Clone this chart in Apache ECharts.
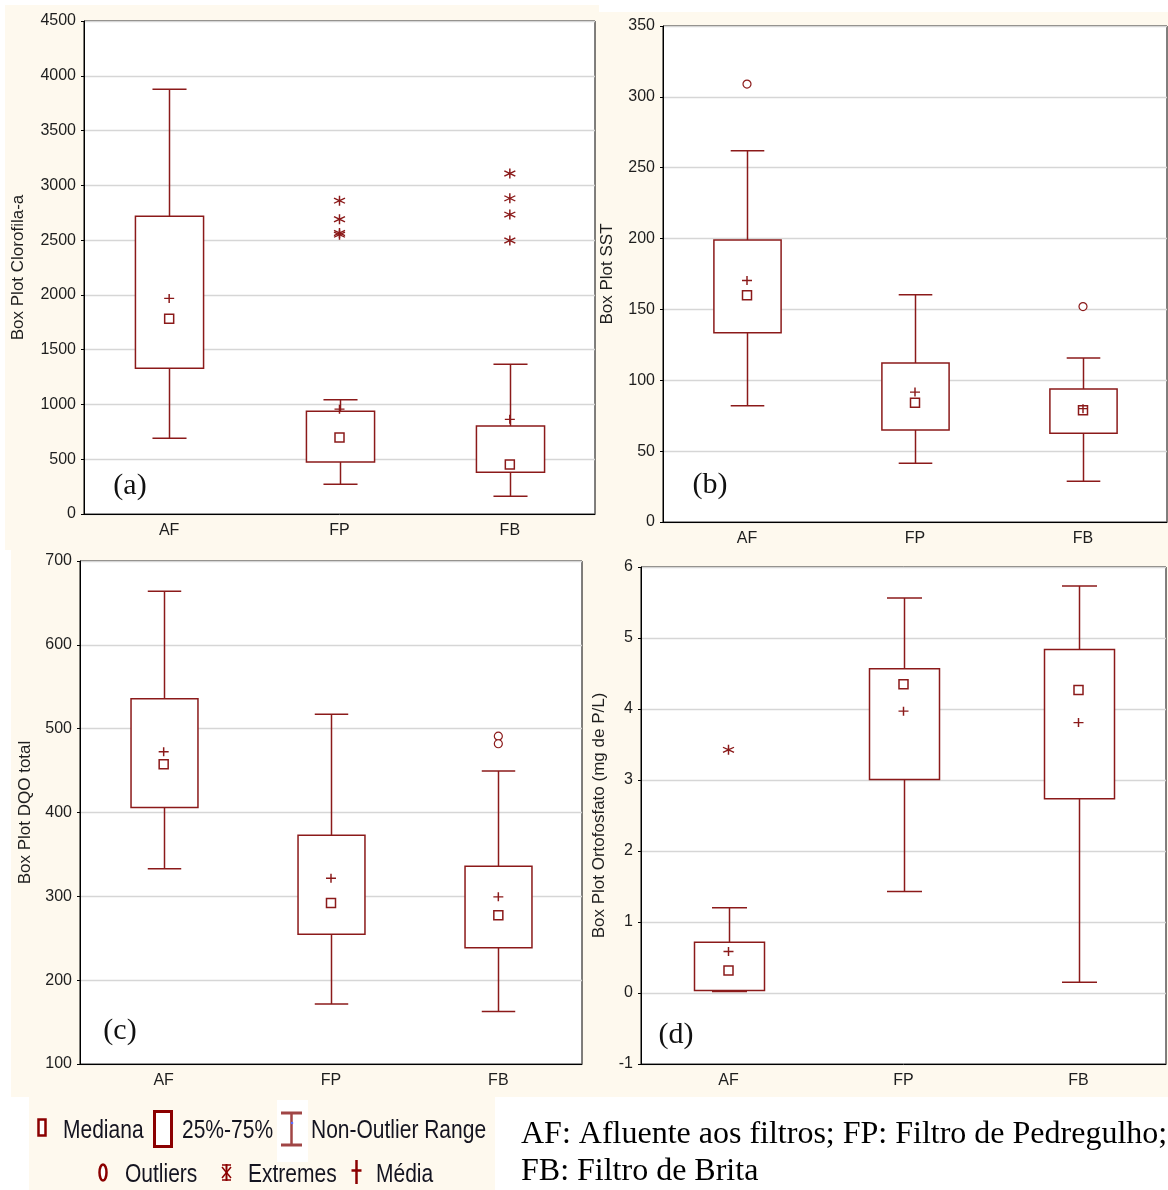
<!DOCTYPE html>
<html>
<head>
<meta charset="utf-8">
<script src="https://cdn.jsdelivr.net/npm/echarts@6/dist/echarts.min.js"></script>
<style>
html,body{margin:0;padding:0;background:#fff;}
#c{width:1168px;height:1190px;}
</style>
</head>
<body>
<div id="c"></div>
<script>
// ---------- DATA ----------
const categories = ['AF', 'FP', 'FB'];

// (a) Clorofila-a
const chlAxis = [0, 4500, 500];
const chlMin = [691, 272, 163];
const chlQ1 = [1331, 474, 381];
const chlQ3 = [2717, 938, 803];
const chlMax = [3876, 1043, 1367];
const chlMedian = [1783, 698, 451];
const chlMean = [1968, 957, 864];
const chlOutliers = [];
const chlExtremes = [['FP', 2860], ['FP', 2690], ['FP', 2565], ['FP', 2550],
                     ['FB', 3108], ['FB', 2881], ['FB', 2733], ['FB', 2496]];

// (b) SST
const sstAxis = [0, 350, 50];
const sstMin = [82, 41.4, 28.7];
const sstQ1 = [133.5, 64.9, 62.7];
const sstQ3 = [199, 112.2, 93.9];
const sstMax = [262, 160.3, 115.7];
const sstMedian = [160, 84.2, 78.8];
const sstMean = [170.4, 91.7, 80];
const sstOutliers = [['AF', 309], ['FB', 152]];
const sstExtremes = [];

// (c) DQO total
const dqoAxis = [100, 700, 100];
const dqoMin = [333, 171.5, 162.7];
const dqoQ1 = [406, 254.7, 238.8];
const dqoQ3 = [535.7, 373, 335.8];
const dqoMax = [664, 517.3, 449.5];
const dqoMedian = [457.5, 292, 277.3];
const dqoMean = [472.5, 321.6, 299.4];
const dqoOutliers = [['FB', 491], ['FB', 482]];
const dqoExtremes = [];

// (d) Ortofosfato
const ortAxis = [-1, 6, 1];
const ortMin = [0.02, 1.43, 0.151];
const ortQ1 = [0.035, 3.007, 2.736];
const ortQ3 = [0.715, 4.567, 4.839];
const ortMax = [1.201, 5.563, 5.733];
const ortMedian = [0.316, 4.348, 4.266];
const ortMean = [0.584, 3.969, 3.809];
const ortOutliers = [];
const ortExtremes = [['AF', 3.425]];

const axisTitles = ['Box Plot Clorofila-a', 'Box Plot SST', 'Box Plot DQO total', 'Box Plot Ortofosfato (mg de P/L)'];
const panelLabels = ['(a)', '(b)', '(c)', '(d)'];
const legendLabels = ['Mediana', '25%-75%', 'Non-Outlier Range', 'Outliers', 'Extremes', 'Média'];
const captionLines = ['AF: Afluente aos filtros; FP: Filtro de Pedregulho;', 'FB: Filtro de Brita'];

// ---------- STYLE / LAYOUT ----------
const MAROON = '#8B1A1A';
const SANS = '"Liberation Sans", Arial, sans-serif';
const SERIF = '"Liberation Serif", "Times New Roman", serif';
const CREAM = '#FEF9EE';

const panels = [
  { grid: {left: 84, top: 21, width: 511, height: 493}, axis: chlAxis, gap: 57,
    min: chlMin, q1: chlQ1, q3: chlQ3, max: chlMax, med: chlMedian, mean: chlMean, out: chlOutliers, ext: chlExtremes, lab: [130, 486] },
  { grid: {left: 663, top: 26, width: 504, height: 496}, axis: sstAxis, gap: 47,
    min: sstMin, q1: sstQ1, q3: sstQ3, max: sstMax, med: sstMedian, mean: sstMean, out: sstOutliers, ext: sstExtremes, lab: [710, 485] },
  { grid: {left: 80, top: 561, width: 502, height: 503}, axis: dqoAxis, gap: 46,
    min: dqoMin, q1: dqoQ1, q3: dqoQ3, max: dqoMax, med: dqoMedian, mean: dqoMean, out: dqoOutliers, ext: dqoExtremes, lab: [120, 1031] },
  { grid: {left: 641, top: 567, width: 525, height: 497}, axis: ortAxis, gap: 33,
    min: ortMin, q1: ortQ1, q3: ortQ3, max: ortMax, med: ortMedian, mean: ortMean, out: ortOutliers, ext: ortExtremes, lab: [676, 1035] }
];

function renderBox(params, api) {
  const x = api.value(0);
  const lo = api.coord([x, api.value(1)]);
  const q1 = api.coord([x, api.value(2)]);
  const q3 = api.coord([x, api.value(3)]);
  const hi = api.coord([x, api.value(4)]);
  const band = api.size([1, 0])[0];
  const bw = band * 0.4, cw = band * 0.2;
  const cx = Math.round(hi[0]) + 0.5;
  const st = {stroke: MAROON, lineWidth: 1.5, fill: null};
  return {
    type: 'group',
    children: [
      {type: 'line', shape: {x1: cx, y1: hi[1], x2: cx, y2: q3[1]}, style: st},
      {type: 'line', shape: {x1: cx, y1: q1[1], x2: cx, y2: lo[1]}, style: st},
      {type: 'line', shape: {x1: cx - cw / 2, y1: hi[1], x2: cx + cw / 2, y2: hi[1]}, style: st},
      {type: 'line', shape: {x1: cx - cw / 2, y1: lo[1], x2: cx + cw / 2, y2: lo[1]}, style: st},
      {type: 'rect', shape: {x: cx - bw / 2, y: q3[1], width: bw, height: q1[1] - q3[1]},
       style: {stroke: MAROON, lineWidth: 1.5, fill: '#fff'}}
    ]
  };
}

const grids = [], xAxes = [], yAxes = [], series = [];
panels.forEach((p, i) => {
  grids.push(Object.assign({show: true, backgroundColor: '#fff', borderColor: '#000', borderWidth: 1}, p.grid));
  xAxes.push({
    type: 'category', gridIndex: i, data: categories, boundaryGap: true,
    axisLine: {onZero: false, lineStyle: {color: '#000', width: 1}},
    axisTick: {alignWithLabel: true, length: 4, lineStyle: {color: '#000'}},
    axisLabel: {color: '#1e1e1e', fontSize: 16, fontFamily: SANS, margin: 9},
    splitLine: {show: false}
  });
  yAxes.push({
    type: 'value', gridIndex: i, min: p.axis[0], max: p.axis[1], interval: p.axis[2],
    name: axisTitles[i], nameLocation: 'middle', nameGap: p.gap, nameRotate: 90,
    nameTextStyle: {color: '#1e1e1e', fontSize: 17, fontFamily: SANS},
    axisLine: {show: true, lineStyle: {color: '#000', width: 1}},
    axisTick: {show: true, length: 3, lineStyle: {color: '#000'}},
    axisLabel: {color: '#1e1e1e', fontSize: 16, fontFamily: SANS, margin: 8,
                formatter: v => String(v)},
    splitLine: {show: true, lineStyle: {color: '#d6d6d6', width: 1.3}}
  });
  const boxData = categories.map((c, k) => [k, p.min[k], p.q1[k], p.q3[k], p.max[k]]);
  series.push({
    type: 'custom', xAxisIndex: i, yAxisIndex: i, renderItem: renderBox,
    encode: {x: 0, y: [1, 2, 3, 4]}, data: boxData, z: 2, silent: true
  });
  series.push({
    type: 'scatter', xAxisIndex: i, yAxisIndex: i, z: 3, silent: true,
    symbol: 'rect', symbolSize: 9,
    itemStyle: {color: '#fff', borderColor: MAROON, borderWidth: 1.5, opacity: 1},
    data: categories.map((c, k) => [c, p.med[k]])
  });
  series.push({
    type: 'scatter', xAxisIndex: i, yAxisIndex: i, z: 3, silent: true,
    symbol: 'path://M0,5L10,5M5,0L5,10', symbolSize: [10, 9],
    itemStyle: {color: 'none', borderColor: MAROON, borderWidth: 1.4, opacity: 1},
    data: categories.map((c, k) => [c, p.mean[k]])
  });
  series.push({
    type: 'scatter', xAxisIndex: i, yAxisIndex: i, z: 3, silent: true,
    symbol: 'circle', symbolSize: 8,
    itemStyle: {color: '#fff', borderColor: MAROON, borderWidth: 1.2, opacity: 1},
    data: p.out
  });
  series.push({
    type: 'scatter', xAxisIndex: i, yAxisIndex: i, z: 3, silent: true,
    symbol: 'path://M5,0L5,10M0.6,2.4L9.4,7.6M0.6,7.6L9.4,2.4', symbolSize: [11, 10],
    itemStyle: {color: 'none', borderColor: MAROON, borderWidth: 1.4, opacity: 1},
    data: p.ext
  });
});

// ---------- GRAPHICS: backgrounds, labels, legend, caption ----------
const graphics = [
  {type: 'rect', z: -100, shape: {x: 5, y: 5, width: 594, height: 545}, style: {fill: CREAM}, silent: true},
  {type: 'rect', z: -100, shape: {x: 599, y: 12, width: 569, height: 1085}, style: {fill: CREAM}, silent: true},
  {type: 'rect', z: -100, shape: {x: 11, y: 550, width: 588, height: 547}, style: {fill: CREAM}, silent: true},
  {type: 'rect', z: -100, shape: {x: 29, y: 1097, width: 466, height: 93}, style: {fill: CREAM}, silent: true}
];
panels.forEach((p, i) => {
  graphics.push({type: 'text', z: 100, x: p.lab[0], y: p.lab[1], silent: true,
    style: {text: panelLabels[i], font: '30px ' + SERIF, fill: '#111',
            textAlign: 'center', textVerticalAlign: 'middle', align: 'center', verticalAlign: 'middle'}});
});
function legText(t, x, y) {
  return {type: 'text', z: 100, x: x, y: y, scaleX: 0.84, silent: true,
    style: {text: t, font: '25px ' + SANS, fill: '#141420',
            textAlign: 'left', textVerticalAlign: 'middle', align: 'left', verticalAlign: 'middle'}};
}
const LM = '#8B0000';
graphics.push(
  // median icon
  {type: 'rect', z: 100, shape: {x: 38.5, y: 1119.5, width: 7, height: 16}, style: {fill: '#fff', stroke: LM, lineWidth: 2.5}},
  legText(legendLabels[0], 63, 1131),
  // box icon
  {type: 'rect', z: 100, shape: {x: 154.5, y: 1111.5, width: 17, height: 35}, style: {fill: '#fff', stroke: LM, lineWidth: 3}},
  legText(legendLabels[1], 182, 1131),
  // whisker icon
  {type: 'rect', z: 99, shape: {x: 277, y: 1100, width: 31, height: 62}, style: {fill: '#fff'}},
  {type: 'line', z: 100, shape: {x1: 281, y1: 1113, x2: 302, y2: 1113}, style: {stroke: '#A04545', lineWidth: 3}},
  {type: 'line', z: 100, shape: {x1: 281, y1: 1145, x2: 302, y2: 1145}, style: {stroke: '#A04545', lineWidth: 3}},
  {type: 'line', z: 100, shape: {x1: 291.5, y1: 1113, x2: 291.5, y2: 1145}, style: {stroke: '#A04545', lineWidth: 2.5}},
  {type: 'circle', z: 101, shape: {cx: 292, cy: 1123, r: 1.3}, style: {fill: '#5a6cff'}},
  legText(legendLabels[2], 311, 1131),
  // outlier icon
  {type: 'ellipse', z: 100, shape: {cx: 103, cy: 1172.5, rx: 3.5, ry: 8}, style: {fill: '#fff', stroke: LM, lineWidth: 2.5}},
  legText(legendLabels[3], 125, 1175),
  // extremes icon
  {type: 'line', z: 100, shape: {x1: 226.5, y1: 1164, x2: 226.5, y2: 1181}, style: {stroke: LM, lineWidth: 2}},
  {type: 'line', z: 100, shape: {x1: 222, y1: 1167, x2: 231, y2: 1178}, style: {stroke: LM, lineWidth: 1.5}},
  {type: 'line', z: 100, shape: {x1: 222, y1: 1178, x2: 231, y2: 1167}, style: {stroke: LM, lineWidth: 1.5}},
  {type: 'line', z: 100, shape: {x1: 222, y1: 1165, x2: 231, y2: 1165}, style: {stroke: LM, lineWidth: 1.5}},
  {type: 'line', z: 100, shape: {x1: 222, y1: 1180, x2: 231, y2: 1180}, style: {stroke: LM, lineWidth: 1.5}},
  legText(legendLabels[4], 248, 1175),
  // mean icon
  {type: 'line', z: 100, shape: {x1: 356.5, y1: 1160, x2: 356.5, y2: 1184}, style: {stroke: LM, lineWidth: 2.5}},
  {type: 'line', z: 100, shape: {x1: 351.5, y1: 1170.5, x2: 361.5, y2: 1170.5}, style: {stroke: LM, lineWidth: 2.5}},
  legText(legendLabels[5], 376, 1175)
);
captionLines.forEach((t, k) => {
  graphics.push({type: 'text', z: 100, x: 521, y: k === 0 ? 1135 : 1172, silent: true,
    style: {text: t, font: '32px ' + SERIF, fill: '#000',
            textAlign: 'left', textVerticalAlign: 'middle', align: 'left', verticalAlign: 'middle'}});
});

const chart = echarts.init(document.getElementById('c'), null, {renderer: 'canvas'});
chart.setOption({
  backgroundColor: '#fff',
  animation: false,
  grid: grids,
  xAxis: xAxes,
  yAxis: yAxes,
  series: series,
  graphic: {elements: graphics}
});
</script>
</body>
</html>
